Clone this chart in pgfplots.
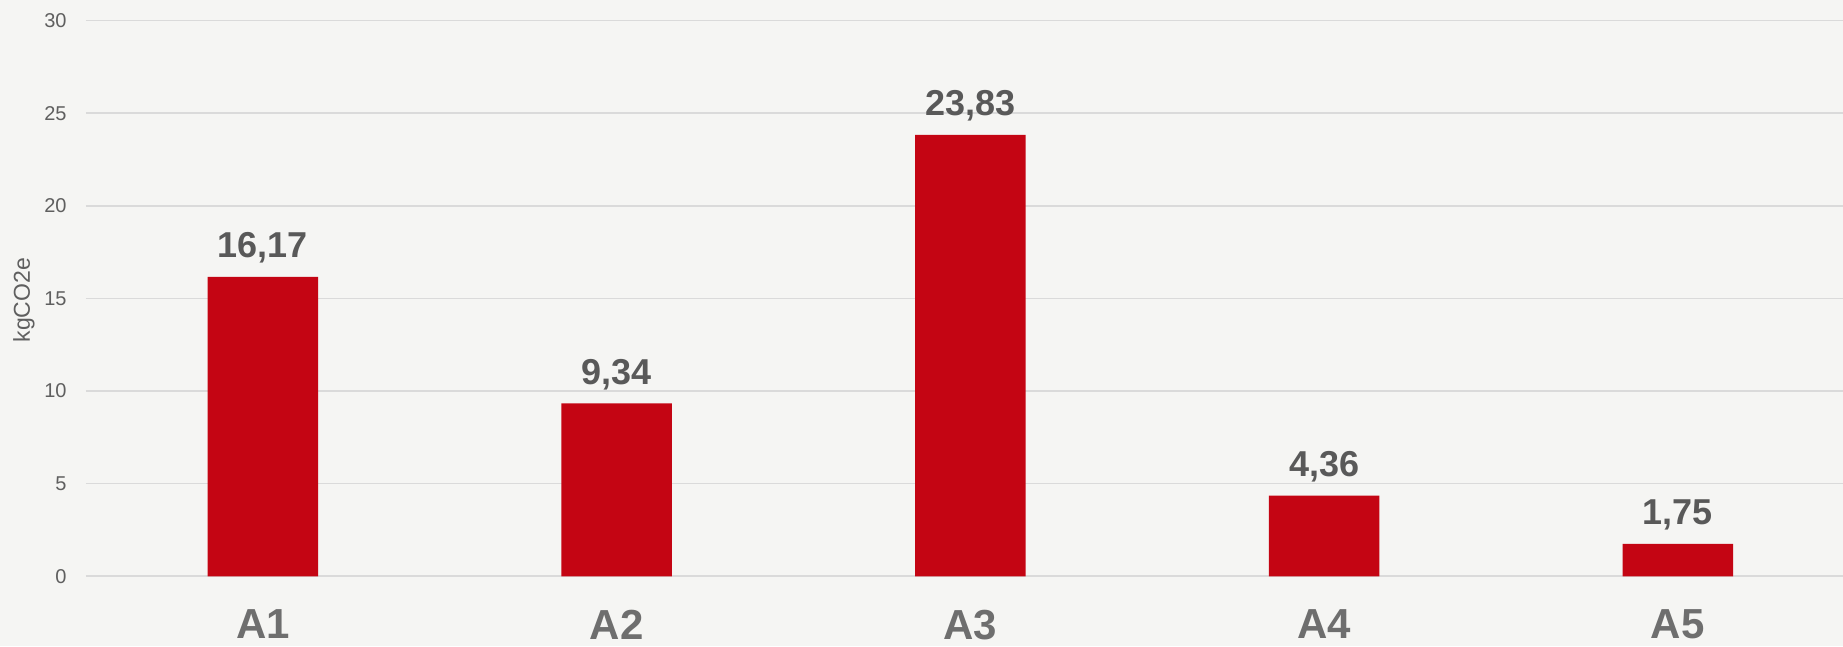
\documentclass[border=0pt]{standalone}
\usepackage{fontspec}
\setmainfont{Liberation Sans}
\usepackage{pgfplots}
\pgfplotsset{compat=1.18}
\definecolor{bg}{RGB}{245,245,243}
\definecolor{barred}{RGB}{196,5,19}
\definecolor{gridc}{RGB}{218,218,218}
\definecolor{valc}{RGB}{89,89,89}
\definecolor{xlabc}{RGB}{110,110,110}
\definecolor{tickc}{RGB}{95,95,95}
\begin{document}
\begin{tikzpicture}
\fill[bg] (-43pt,-35pt) rectangle (878.5pt,288.15pt);
\begin{axis}[
  at={(0,0)}, anchor=south west,
  scale only axis,
  width=878.5pt, height=277.8pt,
  xmin=-0.5, xmax=4.467,
  ymin=0, ymax=30,
  ytick={0,5,...,30},
  xtick={0,1,2,3,4},
  xticklabels={A1,A2,A3,A4,A5},
  axis line style={draw=none},
  major tick length=0pt,
  ymajorgrids,
  grid style={gridc, line width=0.8pt},
  /pgf/number format/assume math mode=true,
  yticklabel style={font=\fontsize{10pt}{12pt}\selectfont, text=tickc, anchor=east, inner sep=0pt, xshift=-9.5pt},
  xticklabel style={font=\fontsize{21pt}{24pt}\selectfont\bfseries, text=xlabc, anchor=north, inner sep=0pt, yshift=-16.5pt},
  ylabel={kgCO2e},
  ylabel style={at={(axis description cs:-0.0353,0.497)}, anchor=center, font=\fontsize{11.5pt}{13pt}\selectfont, text=tickc, inner sep=0pt},
  clip=false,
]
\addplot[ybar, bar width=55.3pt, fill=barred, draw=none,
  nodes near coords,
  nodes near coords style={font=\fontsize{18pt}{20pt}\selectfont\bfseries, text=valc, anchor=base, inner sep=0pt, yshift=9.5pt,
    /pgf/number format/.cd, fixed, fixed zerofill, precision=2, use comma, assume math mode=true},
] coordinates {(0,16.17) (1,9.34) (2,23.83) (3,4.36) (4,1.75)};
\end{axis}
\pgfresetboundingbox
\useasboundingbox (-43pt,-35pt) rectangle (878.5pt,288.15pt);
\end{tikzpicture}
\end{document}
